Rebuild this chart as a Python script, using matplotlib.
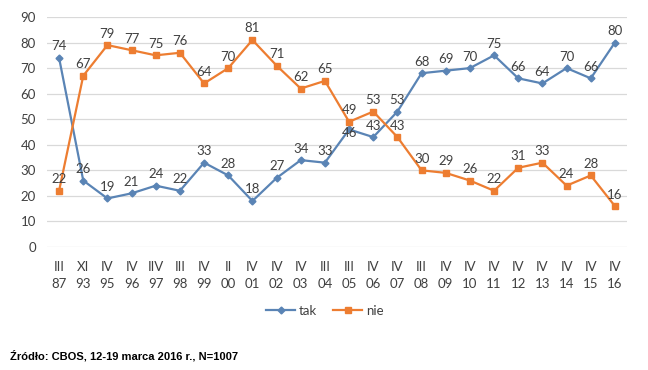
import matplotlib
matplotlib.use("Agg")
import matplotlib.pyplot as plt

# survey waves (month roman numeral + year)
months = ["III", "XI", "IV", "IV", "IIV", "III", "IV", "II", "IV", "IV", "IV", "III",
          "III", "IV", "IV", "III", "IV", "IV", "IV", "IV", "IV", "IV", "IV", "IV"]
years = ["87", "93", "95", "96", "97", "98", "99", "00", "01", "02", "03", "04",
         "05", "06", "07", "08", "09", "10", "11", "12", "13", "14", "15", "16"]
tak = [74, 26, 19, 21, 24, 22, 33, 28, 18, 27, 34, 33,
       46, 43, 53, 68, 69, 70, 75, 66, 64, 70, 66, 80]
nie = [22, 67, 79, 77, 75, 76, 64, 70, 81, 71, 62, 65,
       49, 53, 43, 30, 29, 26, 22, 31, 33, 24, 28, 16]

BLUE = "#5a84b5"
ORANGE = "#ed7d31"
TXT = "#404040"
FONT = "Lato"

fig = plt.figure(figsize=(6.48, 3.70), dpi=100, facecolor="white")
ax = fig.add_axes([47 / 648, 1 - 247 / 370, 580 / 648, 230 / 370])

x = list(range(len(years)))
ax.plot(x, tak, color=BLUE, lw=1.6, marker="D", ms=3.5, label="tak", zorder=3)
ax.plot(x, nie, color=ORANGE, lw=1.6, marker="s", ms=4.5, label="nie", zorder=3)

# data labels sit above the points, except the crowded 2005 "tak" one
label_dy = {("tak", 12): -7}
for name, series in (("tak", tak), ("nie", nie)):
    for xi, v in zip(x, series):
        dy = label_dy.get((name, xi), 4)
        ax.annotate(str(v), (xi, v), xytext=(0, dy), textcoords="offset points",
                    ha="center", va="bottom", fontsize=9.5, color=TXT, family=FONT,
                    zorder=4)

ax.set_xlim(-0.5, len(x) - 0.5)
ax.set_ylim(0, 90)
ax.set_yticks(range(0, 91, 10))
ax.set_xticks(x)
ax.set_xticklabels([f"{m}\n{y}" for m, y in zip(months, years)], linespacing=1.5)
ax.tick_params(axis="x", length=0, labelsize=9.5, labelcolor=TXT, pad=10)
ax.tick_params(axis="y", length=0, labelsize=9.5, labelcolor=TXT, pad=8)
for lab in ax.get_xticklabels() + ax.get_yticklabels():
    lab.set_family(FONT)
ax.grid(axis="y", color="#d9d9d9", lw=0.9)
ax.set_axisbelow(True)
for s in ax.spines.values():
    s.set_visible(False)

leg = fig.legend(loc="center", bbox_to_anchor=(325 / 648, 1 - 311 / 370), ncol=2,
                 frameon=False, prop={"family": FONT, "size": 9.5},
                 handlelength=2.2, columnspacing=1.2, handletextpad=0.3)
for t in leg.get_texts():
    t.set_color(TXT)

fig.text(10 / 648, 1 - 356 / 370, "Źródło: CBOS, 12-19 marca 2016 r., N=1007",
         family=["Liberation Sans Narrow", "Liberation Sans"], weight="bold",
         fontsize=8, va="center", ha="left", color="black")

fig.savefig("out.png", dpi=100, facecolor="white")
